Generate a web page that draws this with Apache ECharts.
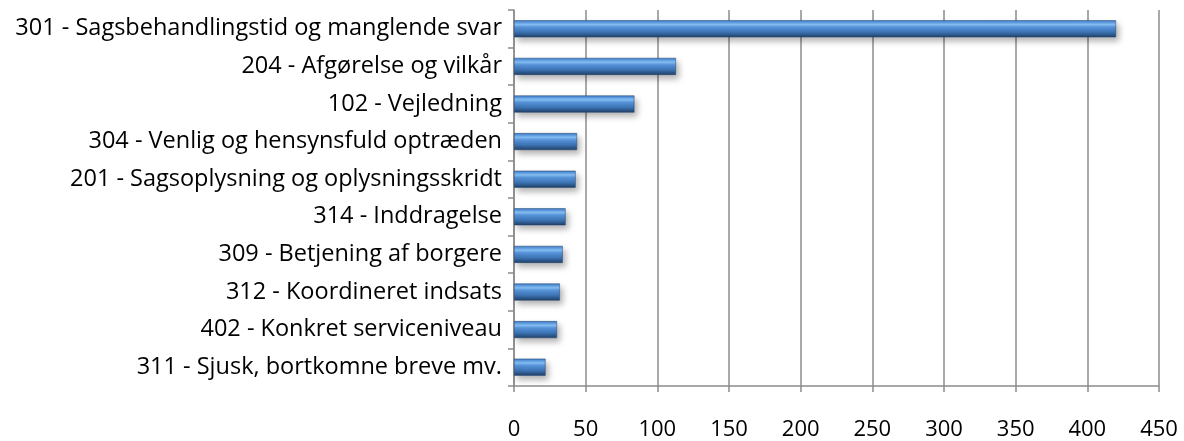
<!DOCTYPE html>
<html>
<head>
<meta charset="utf-8">
<script src="https://cdn.jsdelivr.net/npm/echarts@6/dist/echarts.min.js"></script>
<style>
  html, body { margin: 0; padding: 0; background: #fff; }
  #chart { width: 1184px; height: 441px; }
</style>
</head>
<body>
<div id="chart"></div>
<script>
const categories = [
  '301 - Sagsbehandlingstid og manglende svar',
  '204 - Afgørelse og vilkår',
  '102 - Vejledning',
  '304 - Venlig og hensynsfuld optræden',
  '201 - Sagsoplysning og oplysningsskridt',
  '314 - Inddragelse',
  '309 - Betjening af borgere',
  '312 - Koordineret indsats',
  '402 - Konkret serviceniveau',
  '311 - Sjusk, bortkomne breve mv.'
]
const counts = [420, 113, 84, 44, 43, 36, 34, 32, 30, 22]

const chart = echarts.init(document.getElementById('chart'))

const fontFamily = 'Open Sans, sans-serif'
const gridColor = '#8c8c8c'

chart.setOption({
  animation: false,
  grid: {
    left: 514,
    right: 25,
    top: 10,
    bottom: 54,
  },
  xAxis: {
    type: 'value',
    min: 0,
    max: 450,
    interval: 50,
    axisLine: { show: true, lineStyle: { color: gridColor, width: 1.5 } },
    axisTick: { show: true, length: 6, lineStyle: { color: gridColor, width: 1.5 } },
    splitLine: { show: true, lineStyle: { color: gridColor, width: 1.5 } },
    axisLabel: {
      color: '#000',
      fontFamily: fontFamily,
      fontSize: 22,
      margin: 33,
    },
  },
  yAxis: {
    type: 'category',
    inverse: true,
    data: categories,
    axisLine: { show: true, lineStyle: { color: gridColor, width: 1.5 } },
    axisTick: { show: true, length: 6, lineStyle: { color: gridColor, width: 1.5 } },
    axisLabel: {
      color: '#000',
      fontFamily: fontFamily,
      fontSize: 23.5,
      margin: 12,
    },
  },
  series: [
    {
      type: 'bar',
      data: counts,
      barWidth: 17,
      itemStyle: {
        color: new echarts.graphic.LinearGradient(0, 0, 0, 1, [
          { offset: 0, color: '#3a78c8' },
          { offset: 0.12, color: '#5d9be0' },
          { offset: 0.25, color: '#86c0f4' },
          { offset: 0.4, color: '#5895dc' },
          { offset: 0.7, color: '#3c73b3' },
          { offset: 1, color: '#1f3f66' },
        ]),
        borderColor: '#24456f',
        borderWidth: 0.5,
        shadowColor: 'rgba(0,0,0,0.3)',
        shadowBlur: 6,
        shadowOffsetX: 3,
        shadowOffsetY: 4,
      },
    },
  ],
})
</script>
</body>
</html>
